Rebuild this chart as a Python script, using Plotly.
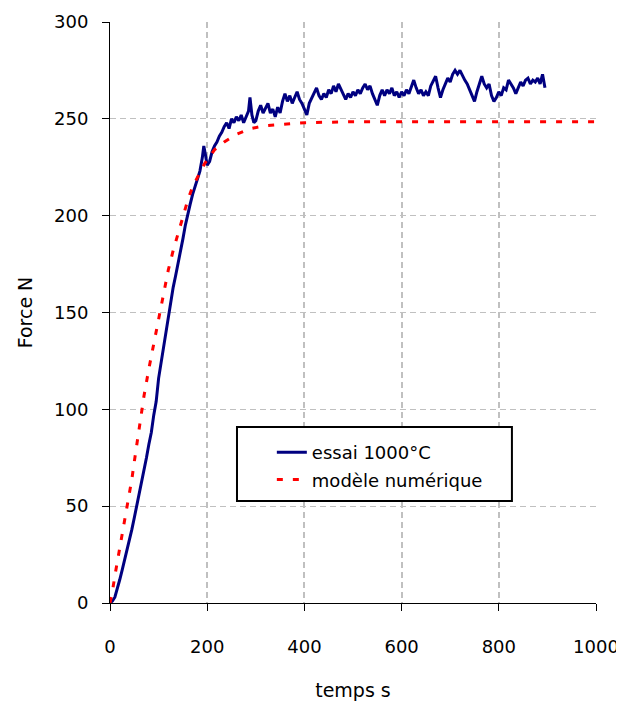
import plotly.graph_objects as go

# ---- data: essai 1000°C (measured) ----
t_essai = [0, 5, 10, 15, 20, 25, 30, 35, 40, 45, 50, 55, 60, 65, 70, 75, 80, 85, 90, 95,
           100, 105, 110, 115, 120, 125, 130, 135, 140, 145, 150, 155, 160, 165, 170, 175,
           180, 185, 190, 193, 196, 200, 205, 210, 215, 220, 225, 230, 235, 240, 245, 250,
           255, 260, 265, 270, 275, 280, 285, 288, 292, 296]
f_essai = [0, 1, 3, 7, 12, 17, 22, 27, 33, 38, 44, 50, 57, 63, 69, 75, 82, 88, 97, 104,
           116, 124, 132, 140, 148, 155, 163, 169, 175, 181, 188, 195, 201, 206, 211, 215,
           219, 223, 230, 236, 232, 226, 228, 233, 236, 238, 241, 243, 246, 248, 245, 250,
           248, 251, 249, 252, 248, 251, 254, 261, 252, 248]

t_plateau = list(range(300, 900, 5))
f_plateau = [249, 254, 257, 253, 256, 258, 253, 255, 251, 256, 253, 259, 263, 259, 262, 258,
             261, 264, 260, 258, 255, 252, 258, 261, 264, 266, 262, 260, 263, 261, 265, 263,
             267, 264, 268, 265, 262, 260, 263, 261, 264, 262, 265, 263, 266, 268, 265, 267,
             263, 260, 257, 262, 265, 262, 265, 263, 266, 262, 264, 261, 264, 262, 265, 263,
             267, 270, 266, 263, 265, 262, 264, 262, 267, 270, 272, 266, 261, 265, 268, 271,
             269, 273, 275, 273, 275, 272, 270, 268, 265, 262, 259, 264, 268, 272, 268, 266,
             268, 262, 259, 261, 264, 262, 266, 265, 270, 268, 266, 263, 266, 269, 267, 270,
             271, 268, 270, 269, 271, 268, 273, 266]

# ---- data: modèle numérique ----
t_modele = [0, 5, 10, 15, 20, 25, 30, 35, 40, 45, 50, 55, 60, 65, 70, 80, 90, 100, 110, 120,
            130, 140, 150, 160, 170, 180, 195, 215, 235, 260, 290, 320, 350, 400, 500, 600,
            700, 800, 900, 1000]
f_modele = [0, 6, 14, 21, 27, 34, 41, 49, 56, 64, 73, 82, 90, 99, 107, 121, 134, 147, 160, 172,
            182, 191, 199, 208, 215, 220, 227, 234, 238, 242, 245, 246.5, 247, 248, 248.5, 248.5,
            248.5, 248.5, 248.5, 248.5]

x_ticks = [0, 200, 400, 600, 800, 1000]
y_ticks = [0, 50, 100, 150, 200, 250, 300]

FONT = "DejaVu Sans"

fig = go.Figure()
fig.add_trace(go.Scatter(
    x=t_essai + t_plateau, y=f_essai + f_plateau, mode="lines",
    name="essai 1000°C", line=dict(color="#000080", width=3),
    legendgroup="a"))
fig.add_trace(go.Scatter(
    x=t_modele, y=f_modele, mode="lines",
    name="modèle numérique", line=dict(color="#FF0000", width=3, dash="6px,10px"),
    legendgroup="b"))

axis_common = dict(
    showline=True, linecolor="black", linewidth=1,
    ticks="outside", ticklen=7, tickcolor="black", tickwidth=1,
    showgrid=True, gridcolor="#C0C0C0", griddash="6px,4px",
    zeroline=False, automargin=False,
    tickfont=dict(family=FONT, size=18, color="black"),
)

fig.update_layout(
    width=616, height=694,
    margin=dict(l=102, r=28, t=14, b=99),
    paper_bgcolor="white", plot_bgcolor="white",
    font=dict(family=FONT, size=18, color="black"),
    xaxis=dict(range=[0, 1000], tickvals=x_ticks, gridwidth=1.5,
               ticklabelstandoff=20,
               title=dict(text="temps s", font=dict(family=FONT, size=19), standoff=28),
               **axis_common),
    yaxis=dict(range=[0, 300], tickvals=y_ticks, gridwidth=1,
               ticklabelstandoff=10,
               title=dict(text="Force N", font=dict(family=FONT, size=19), standoff=16),
               **axis_common),
    showlegend=True,
    legend=dict(x=0.333, y=0.291, xanchor="left", yanchor="top",
                bgcolor="rgba(0,0,0,0)", borderwidth=0,
                tracegroupgap=1, font=dict(family=FONT, size=18, color="black")),
    shapes=[dict(type="rect", xref="paper", yref="paper",
                 x0=0.2613, x1=0.827, y0=0.1756, y1=0.3029,
                 line=dict(color="black", width=2), fillcolor="white", layer="above")],
)
fig.write_html("out.html")
